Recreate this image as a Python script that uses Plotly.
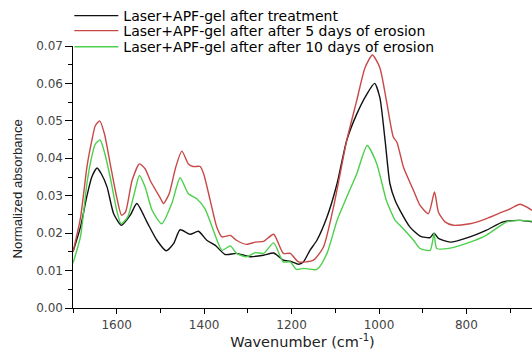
import plotly.graph_objects as go

# ---- data ----
wn_black = [1700, 1683, 1668, 1657, 1645, 1635, 1622, 1607, 1589, 1569, 1554, 1531, 1508, 1487,
            1470, 1455, 1432, 1413, 1394, 1375, 1352, 1326, 1295, 1264, 1241, 1219, 1203, 1184,
            1173, 1158, 1142, 1119, 1096, 1074, 1051, 1028, 1010, 998, 986, 975, 963, 952, 929,
            906, 883, 874, 864, 837, 792, 754, 716, 677, 650]
ab_black = [0.0150, 0.0216, 0.0300, 0.0350, 0.0374, 0.0358, 0.0323, 0.0252, 0.0221, 0.0248, 0.0279,
            0.0230, 0.0181, 0.0153, 0.0172, 0.0209, 0.0197, 0.0205, 0.0181, 0.0168, 0.0143, 0.0146,
            0.0137, 0.0141, 0.0147, 0.0128, 0.0125, 0.0117, 0.0123, 0.0154, 0.0181, 0.0243, 0.0332,
            0.0447, 0.0518, 0.0571, 0.0600, 0.0562, 0.0447, 0.0332, 0.0287, 0.0261, 0.0216, 0.0192,
            0.0188, 0.0200, 0.0186, 0.0176, 0.0190, 0.0208, 0.0230, 0.0234, 0.0230]

wn_red = [1700, 1683, 1668, 1657, 1649, 1639, 1628, 1615, 1600, 1589, 1580, 1565, 1548, 1535, 1523,
          1500, 1493, 1480, 1465, 1451, 1436, 1425, 1409, 1401, 1386, 1371, 1359, 1340, 1326, 1303,
          1283, 1264, 1241, 1219, 1203, 1184, 1150, 1127, 1104, 1089, 1074, 1051, 1032, 1015, 998,
          983, 967, 959, 944, 921, 906, 887, 873, 864, 849, 830, 792, 754, 719, 700, 677, 650]
ab_red = [0.0150, 0.0240, 0.0378, 0.0447, 0.0487, 0.0500, 0.0465, 0.0386, 0.0296, 0.0248, 0.0256,
          0.0340, 0.0385, 0.0372, 0.0340, 0.0293, 0.0279, 0.0305, 0.0376, 0.0419, 0.0385, 0.0378,
          0.0378, 0.0358, 0.0287, 0.0216, 0.0190, 0.0194, 0.0181, 0.0170, 0.0176, 0.0178, 0.0197,
          0.0146, 0.0146, 0.0123, 0.0128, 0.0163, 0.0270, 0.0358, 0.0447, 0.0554, 0.0642, 0.0676,
          0.0642, 0.0554, 0.0456, 0.0443, 0.0376, 0.0314, 0.0274, 0.0252, 0.0310, 0.0256, 0.0230,
          0.0221, 0.0225, 0.0239, 0.0256, 0.0265, 0.0277, 0.0261]

wn_green = [1700, 1683, 1668, 1657, 1649, 1638, 1628, 1615, 1600, 1590, 1575, 1560, 1548, 1535, 1519,
            1497, 1474, 1455, 1436, 1417, 1398, 1379, 1359, 1340, 1326, 1303, 1283, 1264, 1241, 1219,
            1203, 1189, 1173, 1142, 1119, 1096, 1074, 1051, 1027, 1005, 983, 963, 952, 921, 906, 883,
            874, 868, 837, 792, 754, 727, 708, 677, 650]
ab_green = [0.0120, 0.0190, 0.0334, 0.0405, 0.0438, 0.0449, 0.0416, 0.0350, 0.0261, 0.0225, 0.0243,
            0.0305, 0.0354, 0.0323, 0.0261, 0.0225, 0.0279, 0.0348, 0.0305, 0.0292, 0.0265, 0.0208,
            0.0154, 0.0166, 0.0146, 0.0137, 0.0148, 0.0146, 0.0174, 0.0123, 0.0123, 0.0103, 0.0106,
            0.0103, 0.0146, 0.0234, 0.0296, 0.0358, 0.0434, 0.0385, 0.0287, 0.0234, 0.0221, 0.0181,
            0.0159, 0.0154, 0.0199, 0.0159, 0.0160, 0.0176, 0.0195, 0.0216, 0.0230, 0.0234, 0.0232]

names = ["Laser+APF-gel after treatment",
         "Laser+APF-gel after after 5 days of erosion",
         "Laser+APF-gel after after 10 days of erosion"]
colors = ["#111111", "#c84848", "#4cd04c"]
y_title = "Normalized absorbance"
x_title = "Wavenumber (cm<sup>-1</sup>)"

WIDE = "DejaVu Sans, Verdana, sans-serif"
ARIAL = "Liberation Sans, Arial, sans-serif"

fig = go.Figure()
series = [(wn_black, ab_black), (wn_red, ab_red), (wn_green, ab_green)]
legends = ["legend", "legend2", "legend3"]
for (wx, wy), nm, col, lg in zip(series, names, colors, legends):
    fig.add_trace(go.Scatter(x=wx, y=wy, mode="lines", name=nm, legend=lg,
                             line=dict(color=col, width=1.4, shape="spline", smoothing=0.6)))

axis_common = dict(showline=True, linecolor="black", linewidth=1.3, ticks="outside",
                   tickcolor="black", tickwidth=1.3, showgrid=False, zeroline=False,
                   tickfont=dict(family=WIDE, size=12, color="#444444"))

fig.update_xaxes(range=[1700, 650], tickmode="linear", tick0=0, dtick=200, ticklen=5,
                 minor=dict(ticks="outside", dtick=100, tick0=0, ticklen=4, tickcolor="black", tickwidth=1.3),
                 title=dict(text=x_title, font=dict(family=WIDE, size=14.5, color="#222222"), standoff=2),
                 **axis_common)
fig.update_yaxes(range=[0, 0.07], tickmode="linear", tick0=0, dtick=0.01, tickformat=".2f", ticklen=6.5,
                 minor=dict(ticks="outside", dtick=0.005, tick0=0, ticklen=4, tickcolor="black", tickwidth=1.3),
                 **axis_common)

fig.add_annotation(text=y_title, xref="paper", yref="paper", x=-0.12, y=0.456,
                   xanchor="center", yanchor="middle", textangle=-90, showarrow=False,
                   font=dict(family=ARIAL, size=13.2, color="#222222"))

leg_common = dict(x=-0.008, xanchor="left", yanchor="middle", bgcolor="rgba(0,0,0,0)",
                  borderwidth=0, itemwidth=44, font=dict(family=WIDE, size=14, color="black"))
fig.update_layout(
    width=532, height=353,
    margin=dict(l=73, r=0, t=45, b=45),
    plot_bgcolor="white", paper_bgcolor="white",
    showlegend=True,
    legend=dict(y=1.114, **leg_common),
    legend2=dict(y=1.053, **leg_common),
    legend3=dict(y=0.992, **leg_common),
)

fig.write_html("out.html")
